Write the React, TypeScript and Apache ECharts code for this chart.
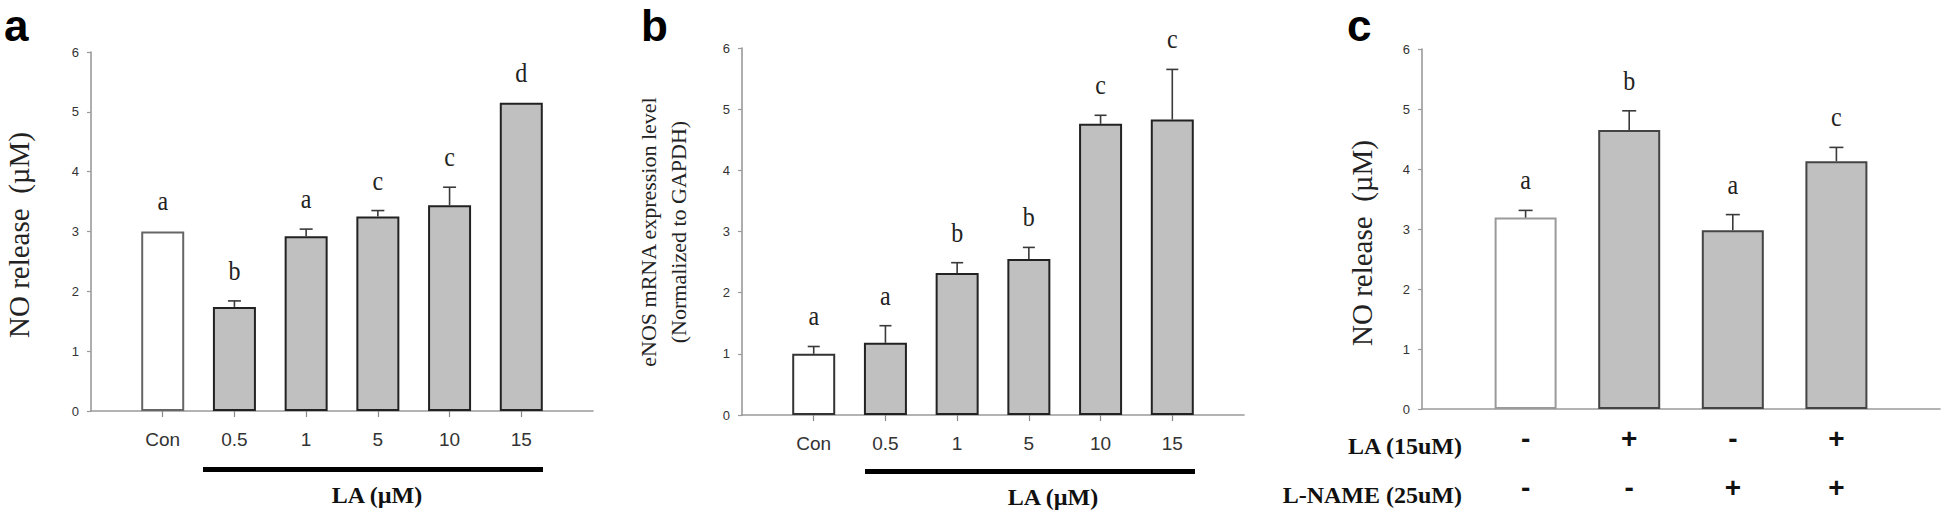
import React, { useEffect, useRef } from "react";
import * as echarts from "echarts";

// ---------- data ----------
// Panel a: NO release
const catsA = ["Con", "0.5", "1", "5", "10", "15"];
const valsA = [3.0, 1.74, 2.92, 3.25, 3.44, 5.15];
const errA = [0, 0.1, 0.12, 0.1, 0.3, 0];
const sigA = ["a", "b", "a", "c", "c", "d"];

// Panel b: eNOS mRNA
const catsB = ["Con", "0.5", "1", "5", "10", "15"];
const valsB = [1.0, 1.18, 2.32, 2.55, 4.76, 4.83];
const errB = [0.12, 0.28, 0.17, 0.19, 0.14, 0.82];
const sigB = ["a", "a", "b", "b", "c", "c"];

// Panel c: NO release with L-NAME
const laRow = ["-", "+", "-", "+"];
const lnameRow = ["-", "-", "+", "+"];
const valsC = [3.19, 4.65, 2.98, 4.13];
const errC = [0.12, 0.32, 0.26, 0.23];
const sigC = ["a", "b", "a", "c"];

const yMin = 0;
const yMax = 6;
const yStep = 1;

const titleA = "NO release  (\u00b5M)";
const titleB = "eNOS mRNA expression level\n(Normalized to GAPDH)";
const titleC = "NO release  (\u00b5M)";

// ---------- helpers ----------
const SERIF = '"Liberation Serif", "Times New Roman", serif';
const SANS = '"Liberation Sans", Arial, sans-serif';
const AXIS_GRAY = "#9a9a9a";

function padCats(cats: string[]) {
  return ["__start", ...cats, "__end"];
}

function barData(vals: number[], firstBorder: string, otherBorder: string) {
  const out: any[] = [null];
  vals.forEach((v, i) => {
    out.push({
      value: v,
      itemStyle: {
        color: i === 0 ? "#ffffff" : "#c0c0c0",
        borderColor: i === 0 ? firstBorder : otherBorder,
        borderWidth: 2,
      },
    });
  });
  out.push(null);
  return out;
}

function errSeries(gridIdx: number, vals: number[], errs: number[], sigs: string[], cap: number) {
  return {
    type: "custom",
    xAxisIndex: gridIdx,
    yAxisIndex: gridIdx,
    z: 5,
    clip: false,
    data: vals.map((v, i) => [i + 1, v, errs[i]]),
    renderItem: (params: any, api: any) => {
      const x = api.value(0);
      const v = api.value(1);
      const e = api.value(2);
      const base = api.coord([x, v]);
      const top = api.coord([x, v + e]);
      const children: any[] = [];
      if (e > 0) {
        children.push({
          type: "line",
          shape: { x1: base[0], y1: base[1], x2: top[0], y2: top[1] },
          style: { stroke: "#3a3a3a", lineWidth: 1.6 },
        });
        children.push({
          type: "line",
          shape: { x1: top[0] - cap / 2, y1: top[1], x2: top[0] + cap / 2, y2: top[1] },
          style: { stroke: "#3a3a3a", lineWidth: 1.6 },
        });
      }
      children.push({
        type: "text",
        x: top[0],
        y: top[1] - 30,
        scaleY: 1.12,
        style: {
          text: sigs[params.dataIndex],
          x: 0,
          y: 0,
          textAlign: "center",
          textVerticalAlign: "middle",
          font: `24px ${SERIF}`,
          fill: "#222",
        },
      });
      return { type: "group", children };
    },
  };
}

function yAxis(gridIndex: number) {
  return {
    type: "value",
    gridIndex,
    min: yMin,
    max: yMax,
    interval: yStep,
    axisLine: { show: true, lineStyle: { color: AXIS_GRAY, width: 1.6 } },
    axisTick: { show: true, length: 4, lineStyle: { color: AXIS_GRAY, width: 1.2 } },
    axisLabel: { fontSize: 13, color: "#333", fontFamily: SANS, margin: 12 },
    splitLine: { show: false },
  };
}

function xAxisCats(gridIndex: number, cats: string[]) {
  const padded = padCats(cats);
  return {
    type: "category",
    gridIndex,
    data: padded,
    boundaryGap: false,
    axisLine: { show: true, lineStyle: { color: AXIS_GRAY, width: 1.6 } },
    axisTick: {
      show: true,
      length: 6,
      interval: (i: number) => i > 0 && i < padded.length - 1,
      lineStyle: { color: "#888", width: 1.2 },
    },
    axisLabel: {
      interval: 0,
      fontSize: 19,
      color: "#333",
      fontFamily: SANS,
      margin: 19,
      formatter: (v: string, i: number) => (i > 0 && i < padded.length - 1 ? v : ""),
    },
    splitLine: { show: false },
  };
}

function panelLetter(t: string, x: number) {
  return {
    type: "text",
    x,
    y: 25,
    style: {
      text: t,
      x: 0,
      y: 0,
      textAlign: "left",
      textVerticalAlign: "middle",
      lineHeight: 44,
      font: `bold 44px ${SANS}`,
      fill: "#000",
    },
  };
}

function yTitle(t: string, x: number, y: number, size: number, lineHeight?: number) {
  return {
    type: "text",
    x,
    y,
    rotation: Math.PI / 2,
    style: {
      text: t,
      x: 0,
      y: 0,
      textAlign: "center",
      textVerticalAlign: "middle",
      font: `${size}px ${SERIF}`,
      lineHeight: lineHeight || size,
      fill: "#222",
    },
  };
}

function boldText(t: string, x: number, y: number, align: string) {
  return {
    type: "text",
    style: { text: t, x, y, textAlign: align, textVerticalAlign: "middle", font: `bold 24px ${SERIF}`, fill: "#111" },
  };
}

export default function App() {
  const ref = useRef<HTMLDivElement>(null);

  useEffect(() => {
    if (!ref.current) return;
    const chart = echarts.init(ref.current, undefined, { renderer: "svg" });

    const padC = ["__start", ...laRow.map((_, i) => "g" + i), "__end"];

    const option: any = {
      animation: false,
      backgroundColor: "#ffffff",
      grid: [
        { left: 91, top: 52, width: 502, height: 359 },
        { left: 742, top: 48, width: 502, height: 367 },
        { left: 1422, top: 49, width: 518, height: 368 },
      ],
      xAxis: [
        xAxisCats(0, catsA),
        xAxisCats(1, catsB),
        {
          type: "category",
          gridIndex: 2,
          data: padC,
          boundaryGap: false,
          axisLine: { show: true, lineStyle: { color: AXIS_GRAY, width: 1.6 } },
          axisTick: { show: false },
          axisLabel: {
            interval: 0,
            fontSize: 28,
            fontWeight: "bold",
            color: "#111",
            fontFamily: SANS,
            margin: 5,
            lineHeight: 49,
            formatter: (_v: string, i: number) =>
              i > 0 && i < padC.length - 1 ? laRow[i - 1] + "\n" + lnameRow[i - 1] : "",
          },
          splitLine: { show: false },
        },
      ],
      yAxis: [yAxis(0), yAxis(1), yAxis(2)],
      series: [
        {
          type: "bar",
          xAxisIndex: 0,
          yAxisIndex: 0,
          barWidth: 43,
          data: barData(valsA, "#666", "#222"),
        },
        errSeries(0, valsA, errA, sigA, 13),
        {
          type: "bar",
          xAxisIndex: 1,
          yAxisIndex: 1,
          barWidth: 43,
          data: barData(valsB, "#333", "#222"),
        },
        errSeries(1, valsB, errB, sigB, 12),
        {
          type: "bar",
          xAxisIndex: 2,
          yAxisIndex: 2,
          barWidth: 62,
          data: barData(valsC, "#9a9a9a", "#444"),
        },
        errSeries(2, valsC, errC, sigC, 14),
      ],
      graphic: [
        panelLetter("a", 4),
        panelLetter("b", 641),
        panelLetter("c", 1347),
        yTitle(titleA, 19, 235, 29),
        yTitle(titleB, 663, 232, 22, 30),
        yTitle(titleC, 1362, 243, 29),
        { type: "rect", shape: { x: 203, y: 467, width: 340, height: 5 }, style: { fill: "#000" } },
        { type: "rect", shape: { x: 865, y: 469, width: 330, height: 5 }, style: { fill: "#000" } },
        boldText("LA (\u00b5M)", 377, 495, "center"),
        boldText("LA (\u00b5M)", 1053, 497, "center"),
        boldText("LA (15uM)", 1462, 446, "right"),
        boldText("L-NAME (25uM)", 1462, 495, "right"),
      ],
    };

    chart.setOption(option);
    return () => chart.dispose();
  }, []);

  return (
    <div
      ref={ref}
      style={{ position: "fixed", left: 0, top: 0, width: 1946, height: 512, background: "#fff" }}
    />
  );
}
